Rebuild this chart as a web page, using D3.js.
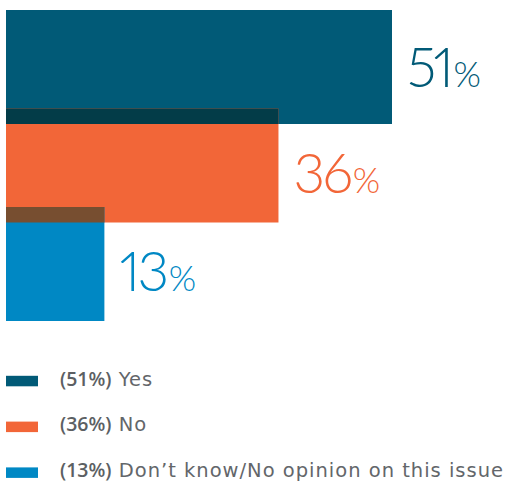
<!DOCTYPE html>
<html>
<head>
<meta charset="utf-8">
<script src="https://cdn.jsdelivr.net/npm/d3@7/dist/d3.min.js"></script>
<style>
  html, body { margin: 0; padding: 0; background: #fff; }
  svg { display: block; }
  .big { font-variant-numeric: proportional-nums; font-feature-settings: "pnum" 1; }
</style>
</head>
<body>
<svg id="chart" width="507" height="488"></svg>
<script>
// Survey responses
const categories = ["Yes", "No", "Don\u2019t know/No opinion on this issue"];
const values = [51, 36, 13];
const colors = ["#015a77", "#f26638", "#0088c4"];
// darker tone where one bar overlaps the next
const overlapColors = ["#033c48", "#774e30"];

const W = 507;
const svg = d3.select("#chart");

const x = d3.scaleLinear().domain([0, 51]).range([6, 392]);
const bandStep = 98.5, barH = 114, barTop = 10;
const y = d3.scaleLinear().domain([0, 1]).range([barTop, barTop + bandStep]);
const ovH = y(0) + barH - y(1);

const bars = svg.append("g");
bars.selectAll("rect.bar")
  .data(values)
  .join("rect")
  .attr("class", "bar")
  .attr("x", x(0))
  .attr("y", (d, i) => y(i))
  .attr("width", d => x(d) - x(0))
  .attr("height", barH)
  .attr("fill", (d, i) => colors[i]);

// overlap strips between consecutive bars
bars.selectAll("rect.overlap")
  .data(values.slice(1))
  .join("rect")
  .attr("class", "overlap")
  .attr("x", x(0))
  .attr("y", (d, i) => y(i + 1))
  .attr("width", (d, i) => x(Math.min(d, values[i])) - x(0))
  .attr("height", ovH)
  .attr("fill", (d, i) => overlapColors[i]);

// value labels, centred on the uncovered part of each bar
const fontBig = 55;
const lbl = svg.append("g")
  .attr("class", "big")
  .attr("font-family", "Lato, 'Noto Sans', sans-serif")
  .attr("font-weight", 300);
values.forEach((v, i) => {
  const visTop = y(i) + (i > 0 ? ovH : 0);
  const mid = (visTop + y(i) + barH) / 2;
  const t = lbl.append("text")
    .attr("x", x(v) + 15)
    .attr("y", mid + 19.5)
    .attr("fill", colors[i])
    .attr("font-size", fontBig)
    .attr("letter-spacing", -2.5);
  t.append("tspan").text(v);
  t.append("tspan").attr("font-size", fontBig * 0.64).attr("dx", 2).text("%");
});

// legend
const legend = svg.append("g")
  .attr("fill", "#63666a");
const names = [];
categories.forEach((c, i) => {
  const cy = 381 + i * 45.8;
  legend.append("rect")
    .attr("x", 6).attr("y", cy - 5.2)
    .attr("width", 32).attr("height", 10.5)
    .attr("fill", colors[i]);
  const t = legend.append("text")
    .attr("x", 60).attr("y", cy + 4.5);
  t.append("tspan")
    .attr("font-family", "'Open Sans', 'Noto Sans', sans-serif")
    .attr("font-size", 19.5)
    .attr("font-weight", 600)
    .attr("fill", "#5c5f63")
    .text(`(${values[i]}%)`);
  names.push(t.append("tspan")
    .attr("font-family", "'DejaVu Sans', sans-serif")
    .attr("font-size", 19.5)
    .text(" " + c));
});

// spread the category names so the longest line ends at the right margin
const widest = d3.max(legend.selectAll("text").nodes(), n => n.getBBox().x + n.getBBox().width);
const longest = d3.max(categories, c => c.length + 1);
const ls = Math.max(0, (W - 3 - widest) / longest);
names.forEach(n => n.attr("letter-spacing", ls));
</script>
</body>
</html>
